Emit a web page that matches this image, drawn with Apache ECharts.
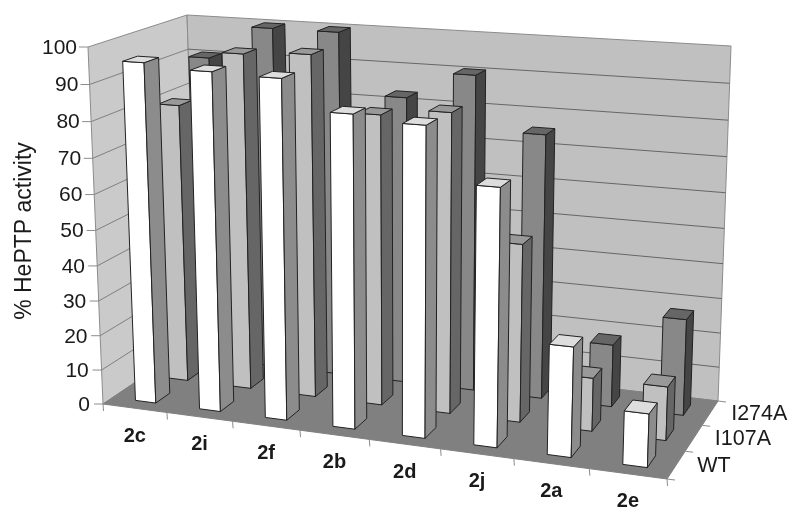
<!DOCTYPE html>
<html>
<head>
    <meta charset="utf-8">
    <title>% HePTP activity</title>
    <script src="https://cdn.jsdelivr.net/npm/echarts@6/dist/echarts.min.js"></script>
    <style>html,body{margin:0;padding:0;background:#fff}</style>
</head>
<body>
<div id="main" style="width:800px;height:522px;"></div>
<script type="text/javascript">
    // values
    var categories = ['2c', '2i', '2f', '2b', '2d', '2j', '2a', '2e'];
    var seriesNames = ['WT', 'I107A', 'I274A'];
    var wtValues = [95.7, 94.5, 94, 86, 84.5, 70, 30, 14.5];
    var i107aValues = [80.5, 96, 97, 82, 84, 50, 15, 15];
    var i274aValues = [90.5, 100, 100, 83, 90.5, 75.5, 18, 27.5];
    var yTicks = [0, 10, 20, 30, 40, 50, 60, 70, 80, 90, 100];

    var W = 800, H = 522;
    var depthCount = seriesNames.length;
    var barWidth = 0.32, barDepth = 0.43;
    var barShift = 0.02;

    // the box on screen: floor and ceiling corners, front-left, front-right, back-right, back-left
    var floorMap = quadMap([103, 404], [667, 479], [718, 401], [198, 340]);
    var ceilMap = quadMap([88, 47], [680, 85], [731, 46], [187, 15]);
    var heightWarp = 1.057;

    // homography unit square -> quad
    function quadMap(a, b, c, d) {
        var dx1 = b[0] - c[0], dx2 = d[0] - c[0], sx = a[0] - b[0] + c[0] - d[0];
        var dy1 = b[1] - c[1], dy2 = d[1] - c[1], sy = a[1] - b[1] + c[1] - d[1];
        var den = dx1 * dy2 - dx2 * dy1;
        var g = (sx * dy2 - dx2 * sy) / den;
        var h = (dx1 * sy - sx * dy1) / den;
        return function (u, v) {
            var w = g * u + h * v + 1;
            return [
                ((b[0] * (1 + g) - a[0]) * u + (d[0] * (1 + h) - a[0]) * v + a[0]) / w,
                ((b[1] * (1 + g) - a[1]) * u + (d[1] * (1 + h) - a[1]) * v + a[1]) / w
            ];
        };
    }

    // u: 0..1 along categories, t: 0..1 along value, z: 0..depthCount from front to back
    function project(u, t, z) {
        var f = floorMap(u, z / depthCount);
        var c = ceilMap(u, z / depthCount);
        var k = t / (t + heightWarp * (1 - t));
        return [f[0] + (c[0] - f[0]) * k, f[1] + (c[1] - f[1]) * k];
    }

    function poly(points, fill, stroke, width) {
        return {
            type: 'polygon',
            shape: { points: points },
            style: { fill: fill, stroke: stroke, lineWidth: width === undefined ? 1 : width }
        };
    }

    function line(p, q, color, width) {
        return {
            type: 'line',
            shape: { x1: p[0], y1: p[1], x2: q[0], y2: q[1] },
            style: { stroke: color, lineWidth: width || 1 }
        };
    }

    function label(text, x, y, size, weight, align, rotation) {
        return {
            type: 'text',
            x: x, y: y, rotation: rotation || 0,
            style: {
                text: text, fill: '#1a1a1a', align: align, verticalAlign: 'middle',
                font: (weight || 'normal') + ' ' + size + 'px "Liberation Sans", Arial, sans-serif'
            }
        };
    }

    function valueFrac(api, v) {
        return 1 - api.coord([0, v])[1] / H;
    }

    function renderFrame(params, api) {
        var kids = [];
        var wallLine = '#8c8c8c';
        var gridLine = '#666666';
        // walls and floor
        kids.push(poly([project(0, 0, 0), project(0, 0, 3), project(0, 1, 3), project(0, 1, 0)], '#cacaca', wallLine));
        kids.push(poly([project(0, 0, 3), project(1, 0, 3), project(1, 1, 3), project(0, 1, 3)], '#c0c0c0', wallLine));
        kids.push(poly([project(0, 0, 0), project(1, 0, 0), project(1, 0, 3), project(0, 0, 3)], '#808080', '#808080'));

        yTicks.forEach(function (tick) {
            var t = valueFrac(api, tick);
            var a = project(0, t, 0), b = project(0, t, 3), c = project(1, t, 3);
            if (tick > 0 && tick < 100) {
                kids.push(line(a, b, '#808080'));
                kids.push(line(b, c, gridLine));
            }
            kids.push(line([a[0] - 9, a[1]], a, wallLine));
            kids.push(label(String(tick), a[0] - 11 - (100 - tick) * 0.02, a[1] + 1, 21, 'normal', 'right'));
        });

        categories.forEach(function (name, i) {
            var p = project(i / categories.length, 0, 0);
            kids.push(line(p, [p[0] + 0.5, p[1] + 7], wallLine));
            var m = project((i + 0.5) / categories.length, 0, 0);
            kids.push(label(name, m[0], m[1] + 28, 20, 'bold', 'center'));
        });
        var end = project(1, 0, 0);
        kids.push(line(end, [end[0] + 0.5, end[1] + 7], wallLine));

        seriesNames.forEach(function (name, z) {
            var p = project(1, 0, z + 1);
            kids.push(line(p, [p[0] + 8, p[1] + 1], wallLine));
            var m = project(1, 0, z + 0.5);
            kids.push(label(name, m[0] + 21, m[1] + 1, 21.5, 'normal', 'left'));
        });
        var corner = project(1, 0, 0);
        kids.push(line(corner, [corner[0] + 8, corner[1] + 1], wallLine));

        kids.push(label('% HePTP activity', 25, 231, 23, 'normal', 'center', Math.PI / 2));
        return { type: 'group', children: kids };
    }

    function barRenderer(z, front, side, top) {
        return function (params, api) {
            var c = api.coord([api.value(0), api.value(1)]);
            var uc = c[0] / W + barShift / categories.length;
            var t = 1 - c[1] / H;
            var half = barWidth / 2 / categories.length;
            var u0 = uc - half, u1 = uc + half;
            var z0 = z + 0.5 - barDepth / 2, z1 = z + 0.5 + barDepth / 2;
            var ink = '#222222';
            return {
                type: 'group',
                children: [
                    poly([project(u0, 0, z0), project(u1, 0, z0), project(u1, t, z0), project(u0, t, z0)], front, ink),
                    poly([project(u1, 0, z0), project(u1, 0, z1), project(u1, t, z1), project(u1, t, z0)], side, ink),
                    poly([project(u0, t, z0), project(u1, t, z0), project(u1, t, z1), project(u0, t, z1)], top, ink)
                ]
            };
        };
    }

    function toRows(values) {
        return values.map(function (v, i) { return [i, v]; });
    }

    var chart = echarts.init(document.getElementById('main'));
    chart.setOption({
        animation: false,
        backgroundColor: '#ffffff',
        grid: { left: 0, top: 0, width: W, height: H },
        xAxis: { type: 'category', data: categories, show: false },
        yAxis: { type: 'value', min: 0, max: 100, interval: 10, show: false },
        series: [
            { type: 'custom', name: 'frame', silent: true, clip: false, data: [[0, 0]], encode: { x: 0, y: 1 }, renderItem: renderFrame },
            { type: 'custom', name: seriesNames[2], clip: false, data: toRows(i274aValues), encode: { x: 0, y: 1 }, renderItem: barRenderer(2, '#888888', '#454545', '#666666') },
            { type: 'custom', name: seriesNames[1], clip: false, data: toRows(i107aValues), encode: { x: 0, y: 1 }, renderItem: barRenderer(1, '#c0c0c0', '#666666', '#999999') },
            { type: 'custom', name: seriesNames[0], clip: false, data: toRows(wtValues), encode: { x: 0, y: 1 }, renderItem: barRenderer(0, '#ffffff', '#8c8c8c', '#dddddd') }
        ]
    });
</script>
</body>
</html>
